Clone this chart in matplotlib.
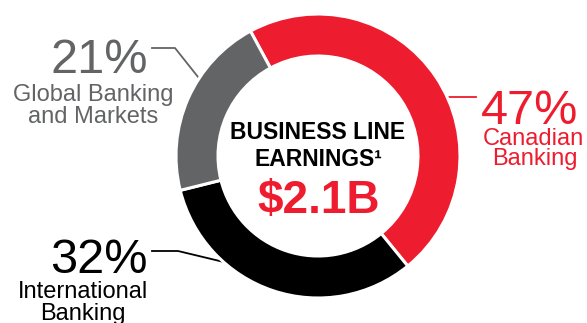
import matplotlib.pyplot as plt

plt.rcParams['font.family'] = ['Liberation Sans', 'DejaVu Sans']

# Earnings split by business line (percent of total)
segments = ['Canadian Banking', 'International Banking', 'Global Banking and Markets']
shares = [47, 32, 21]
share_labels = ['47%', '32%', '21%']
total_label = '$2.1B'

RED = '#ed1c2e'
GREY = '#636466'
BLACK = '#000000'
colors = [RED, BLACK, GREY]

W, H = 587, 323
fig = plt.figure(figsize=(W / 100, H / 100), dpi=100)
ax = fig.add_axes([0, 0, 1, 1])

# work in pixel-like units with y pointing up
cx, cy = 318, H - 156
radius = 142

ax.pie(shares, colors=colors, startangle=118.4, counterclock=False,
       center=(cx, cy), radius=radius,
       wedgeprops=dict(width=42, edgecolor='white', linewidth=2.2))

ax.set_xlim(0, W)
ax.set_ylim(0, H)
ax.set_aspect('equal')
ax.axis('off')

# leader lines from labels to the ring
ax.plot([152, 175, 202], [H - 48, H - 48, H - 82], color=GREY, lw=1.3, zorder=0)
ax.plot([152, 178, 228], [H - 251, H - 251, H - 263], color=BLACK, lw=1.3, zorder=0)
ax.plot([440, 476], [H - 97, H - 97], color=RED, lw=1.3, zorder=0)

big = 35
small = 17

# Global Banking and Markets
ax.text(99, H - 73, share_labels[2], color=GREY, fontsize=big, ha='center', va='baseline')
ax.text(93, H - 101, 'Global Banking', color=GREY, fontsize=small, ha='center', va='baseline')
ax.text(93, H - 123, 'and Markets', color=GREY, fontsize=small, ha='center', va='baseline')

# Canadian Banking
ax.text(530, H - 124, share_labels[0], color=RED, fontsize=big, ha='center', va='baseline')
ax.text(533, H - 145, 'Canadian', color=RED, fontsize=small, ha='center', va='baseline')
ax.text(535, H - 165, 'Banking', color=RED, fontsize=small, ha='center', va='baseline')

# International Banking
ax.text(99, H - 273, share_labels[1], color=BLACK, fontsize=big, ha='center', va='baseline')
ax.text(83, H - 298, 'International', color=BLACK, fontsize=small, ha='center', va='baseline')
ax.text(83, H - 320, 'Banking', color=BLACK, fontsize=small, ha='center', va='baseline')

# centre caption
ax.text(cx, H - 139, 'BUSINESS LINE', color=BLACK, fontsize=16.5, fontweight='bold',
        ha='center', va='baseline')
ax.text(cx, H - 166, 'EARNINGS\u00b9', color=BLACK, fontsize=16.5, fontweight='bold',
        ha='center', va='baseline')
ax.text(cx + 1, H - 213, total_label, color=RED, fontsize=33, fontweight='bold',
        ha='center', va='baseline')

fig.savefig('out.png', dpi=100)
